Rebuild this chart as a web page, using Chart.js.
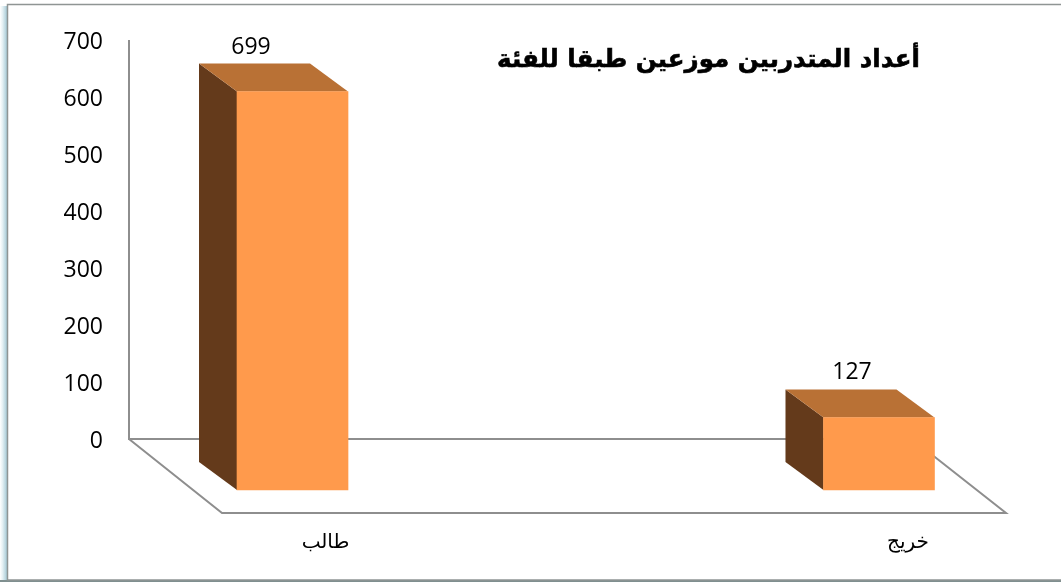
<!DOCTYPE html>
<html lang="ar">
<head>
<meta charset="utf-8">
<title>chart</title>
<script src="https://cdn.jsdelivr.net/npm/chart.js@4/dist/chart.umd.min.js"></script>
<style>
  html, body { margin: 0; padding: 0; background: #fff; }
  #wrap { width: 1061px; height: 582px; }
</style>
</head>
<body>
<div id="wrap"><canvas id="chart" width="1061" height="582"></canvas></div>
<script>
// ── Data ───────────────────────────────────────────────────────────────────
const categories = ["طالب", "خريج"];
const values = [699, 127];
const yTicks = [0, 100, 200, 300, 400, 500, 600, 700];
const chartTitle = "أعداد المتدربين موزعين طبقا للفئة";

// ── Fake 3D look ───────────────────────────────────────────────────────────
const FRONT_DROP = 51;                 // front face sits this far below the axis plane
const DEPTH_X = 38, DEPTH_Y = 28;      // bar depth
const FLOOR_X = 93, FLOOR_Y = 74;      // floor depth
const LINE_COLOR = "#8e8e8e";
const LABEL_FONT = '23px "Open Sans"';
const valueLabelShift = [[-41.5, 6.4], [-27, 5.4]];
const catLabelShift = [33, 29];

function poly(ctx, pts, fill) {
  ctx.beginPath();
  pts.forEach((p, i) => (i ? ctx.lineTo(p[0], p[1]) : ctx.moveTo(p[0], p[1])));
  ctx.closePath();
  ctx.fillStyle = fill;
  ctx.fill();
}

const bar3d = {
  id: "bar3d",
  beforeDraw(chart) {
    const { ctx } = chart;
    ctx.save();
    // outer frame with its soft blue edge on the left
    const edge = ctx.createLinearGradient(0, 0, 7, 0);
    edge.addColorStop(0, "#ffffff");
    edge.addColorStop(0.35, "#e6f1f4");
    edge.addColorStop(1, "#a5c9d5");
    ctx.fillStyle = edge;
    ctx.fillRect(0, 6, 7, 576);
    ctx.fillStyle = "#7f8f8f";
    ctx.fillRect(0, 580, 1061, 2);
    ctx.strokeStyle = "#8f9594";
    ctx.lineWidth = 1.5;
    ctx.strokeRect(7.5, 4.5, 1060, 575.5);
    ctx.restore();
  },
  beforeDatasetsDraw(chart) {
    const { ctx, chartArea: a } = chart;
    ctx.save();

    // floor
    ctx.strokeStyle = LINE_COLOR;
    ctx.lineWidth = 2;
    ctx.beginPath();
    ctx.moveTo(a.left, a.bottom);
    ctx.lineTo(a.left + FLOOR_X, a.bottom + FLOOR_Y);
    ctx.lineTo(a.right + FLOOR_X + 1, a.bottom + FLOOR_Y);
    ctx.lineTo(a.right, a.bottom);
    ctx.stroke();
    ctx.beginPath();
    ctx.moveTo(a.left, a.top);
    ctx.lineTo(a.left, a.bottom);
    ctx.lineTo(a.right, a.bottom);
    ctx.stroke();

    // side and top faces of each bar
    chart.getDatasetMeta(0).data.forEach((bar) => {
      const half = bar.width / 2;
      const l = bar.x - half, r = bar.x + half;
      const t = bar.y + FRONT_DROP, b = bar.base + FRONT_DROP;
      poly(ctx, [[l, t], [l - DEPTH_X, t - DEPTH_Y], [l - DEPTH_X, b - DEPTH_Y], [l, b]], "#643a1b");
      poly(ctx, [[l, t], [l - DEPTH_X, t - DEPTH_Y], [r - DEPTH_X, t - DEPTH_Y], [r, t]], "#b97135");
    });
    ctx.restore();

    // front faces come from the library, moved down onto the floor
    ctx.save();
    ctx.translate(0, FRONT_DROP);
  },
  afterDatasetsDraw(chart) {
    const { ctx } = chart;
    ctx.restore();
    ctx.save();
    ctx.fillStyle = "#000";
    ctx.font = LABEL_FONT;
    ctx.textAlign = "center";
    ctx.textBaseline = "middle";
    chart.getDatasetMeta(0).data.forEach((bar, i) => {
      const s = valueLabelShift[i];
      ctx.fillText(String(values[i]), bar.x + s[0], bar.y + s[1]);
    });

    // category labels
    const xs = chart.scales.x;
    ctx.font = '20px "DejaVu Sans"';
    ctx.direction = "rtl";
    categories.forEach((c, i) => {
      ctx.fillText(c, xs.getPixelForValue(i) + catLabelShift[i], 543);
    });

    // title, stroked a little to get the heavier weight of the original
    ctx.font = 'bold 24.5px "DejaVu Sans"';
    ctx.textAlign = "right";
    ctx.strokeStyle = "#000";
    ctx.lineWidth = 0.6;
    ctx.fillText(chartTitle, 920, 61);
    ctx.strokeText(chartTitle, 920, 61);
    ctx.restore();
  },
};

// ── Chart ──────────────────────────────────────────────────────────────────
new Chart(document.getElementById("chart"), {
  type: "bar",
  data: {
    datasets: [{
      data: values.map((v, i) => ({ x: i, y: v })),
      backgroundColor: "#ff9a4c",
      borderWidth: 0,
      barThickness: 111,
      clip: false,
    }],
  },
  options: {
    responsive: false,
    animation: false,
    layout: { padding: { top: 40, right: 149, bottom: 143, left: 0 } },
    plugins: { legend: { display: false }, title: { display: false }, tooltip: { enabled: false } },
    scales: {
      x: {
        type: "linear",
        offset: false,
        min: -0.2788,
        max: 1.0563,
        display: false,
      },
      y: {
        min: 0,
        max: 700,
        afterFit: (s) => { s.width = 129; },
        afterBuildTicks: (s) => { s.ticks = yTicks.map((v) => ({ value: v })); },
        grid: { display: false, drawTicks: false },
        border: { display: false },
        ticks: { color: "#000", padding: 26, labelOffset: 2, font: { family: "Open Sans", size: 23 } },
      },
    },
  },
  plugins: [bar3d],
});
</script>
</body>
</html>
